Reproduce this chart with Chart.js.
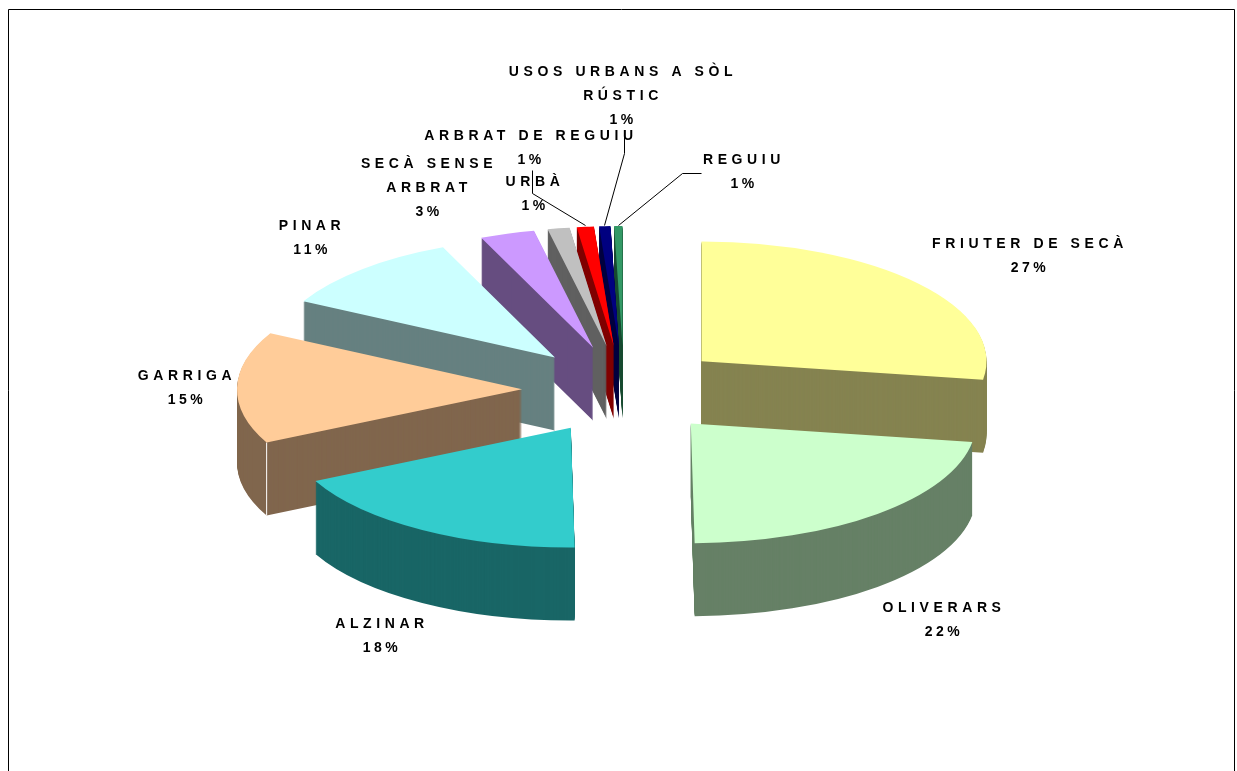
<!DOCTYPE html>
<html><head><meta charset="utf-8">
<style>html,body{margin:0;padding:0;background:#fff;overflow:hidden}canvas{display:block}</style>
<script src="https://cdn.jsdelivr.net/npm/chart.js@4"></script></head>
<body><canvas id="c" width="1237" height="771"></canvas>
<script>
const categories=[["FRIUTER DE SECÀ"],["OLIVERARS"],["ALZINAR"],["GARRIGA"],["PINAR"],["SECÀ SENSE","ARBRAT"],["URBÀ"],["ARBRAT DE REGUIU"],["USOS URBANS A SÒL","RÚSTIC"],["REGUIU"]];
const shares=[27.49,22.31,17.9,15.1,10.8,3.1,1.25,0.97,0.64,0.47];
const percentLabels=["27%","22%","18%","15%","11%","3%","1%","1%","1%","1%"];
const topColors=["#FFFF99","#CCFFCC","#33CCCC","#FFCC99","#CCFFFF","#CC99FF","#C0C0C0","#FF0000","#000080","#339966"];
const wallColors=["#858350","#668066","#196666","#80664D","#668080","#664D80","#606060","#800000","#000040","#1A4D33"];

const TILT=0.42, DEPTH=73, EXPLODE=102, EXPLODE_Y=44.3;
const labelPlace=[[1030,244],[944,608],[382,624],[187,376],[312,226],[429,164],[535,182],[531,136],[623,72],[744,160]];
const leaders=[[[532,170],[532,193],[585,225]],[[624,133],[624,153],[604,225]],[[701,173],[682,173],[618,225]]];

const pie3d={id:'pie3d',
 beforeDatasetsDraw(chart){
  const ctx=chart.ctx, arcs=chart.getDatasetMeta(0).data;
  const cx=arcs[0].x, cy=arcs[0].y;
  const place=(el,dy)=>{
    const mid=(el.startAngle+el.endAngle)/2;
    ctx.save();
    ctx.translate(cx+Math.cos(mid)*EXPLODE,cy+dy+Math.sin(mid)*EXPLODE_Y);
    ctx.scale(1,TILT);
    ctx.translate(-cx,-cy);
    el.draw(ctx);
    ctx.restore();
  };
  const order=arcs.map((el,i)=>i).sort((a,b)=>Math.sin((arcs[a].startAngle+arcs[a].endAngle)/2)-Math.sin((arcs[b].startAngle+arcs[b].endAngle)/2));
  for(const i of order){
    const el=arcs[i], o=el.options;
    el.options=Object.assign(Object.create(o),{backgroundColor:wallColors[i],borderColor:wallColors[i]});
    for(let dy=DEPTH;dy>=1;dy--)place(el,dy);
    el.options=o;
  }
  const seam=(el,ang,col)=>{
    const mid=(el.startAngle+el.endAngle)/2;
    const x=cx+Math.cos(mid)*EXPLODE+Math.cos(ang)*el.outerRadius;
    const y=cy+Math.sin(mid)*EXPLODE_Y+TILT*Math.sin(ang)*el.outerRadius;
    ctx.save();ctx.strokeStyle=col;ctx.lineWidth=1;ctx.beginPath();ctx.moveTo(x,y);ctx.lineTo(x,y+DEPTH);ctx.stroke();ctx.restore();
  };
  seam(arcs[3],arcs[3].startAngle,'#FFFFFF');
  for(const i of order)place(arcs[i],0);
  return false;
 },
 afterDraw(chart){
  const ctx=chart.ctx;
  ctx.save();
  ctx.strokeStyle='#000';ctx.lineWidth=1;
  ctx.beginPath();ctx.moveTo(8.5,771);ctx.lineTo(8.5,9.5);ctx.lineTo(1234.5,9.5);ctx.lineTo(1234.5,771);ctx.stroke();
  for(const l of leaders){ctx.beginPath();l.forEach((p,i)=>i?ctx.lineTo(p[0]+.5,p[1]+.5):ctx.moveTo(p[0]+.5,p[1]+.5));ctx.stroke();}
  ctx.fillStyle='#000';ctx.textAlign='center';ctx.textBaseline='middle';
  ctx.font='bold 14px "Liberation Sans"';
  categories.forEach((lines,i)=>{
    const [x,y]=labelPlace[i];
    ctx.letterSpacing='4.6px';
    lines.forEach((t,j)=>ctx.fillText(t,x,y+j*24));
    ctx.letterSpacing='3.5px';
    ctx.fillText(percentLabels[i],x,y+lines.length*24);
  });
  ctx.restore();
 }};

new Chart(document.getElementById('c'),{
 type:'pie',
 data:{labels:categories.map(l=>l.join(' ')),datasets:[{data:shares,backgroundColor:topColors,borderWidth:0}]},
 options:{responsive:false,animation:false,radius:285,
  layout:{padding:{left:11,top:9}},
  plugins:{legend:{display:false},tooltip:{enabled:false}}},
 plugins:[pie3d]});
</script></body></html>
